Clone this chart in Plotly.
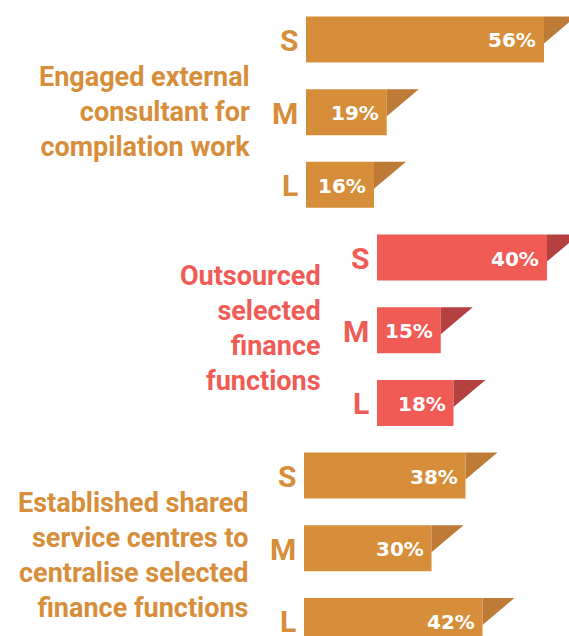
import plotly.graph_objects as go

# ---- data ----
group_labels = [
    "Engaged external<br>consultant for<br>compilation work",
    "Outsourced<br>selected<br>finance<br>functions",
    "Established shared<br>service centres to<br>centralise selected<br>finance functions",
]
sizes = ["S", "M", "L"]
engaged_values = [56, 19, 16]
outsourced_values = [40, 15, 18]
shared_values = [38, 30, 42]

# ---- styles / layout constants ----
W, H = 569, 636
PX_PER_PCT = 4.25                       # horizontal scale
ROW_PX = 72.69                          # vertical step between bars
ROW0_PX = 39.44                         # centre of first bar
BAR_H_PX = 46
FLAG_W_PX, FLAG_H_PX = 32, 27
group_left_px = [306, 377, 304]         # where each group's bars start
group_colors = ["#D68E3A", "#F05B56", "#D68E3A"]
flag_colors = ["#BE7A37", "#B44040", "#BE7A37"]
label_yshift = [0, 2, -7]

LABEL_FONT = "Roboto, 'Liberation Sans', Arial, sans-serif"
VALUE_FONT = "'DejaVu Sans', Verdana, sans-serif"

all_values = [engaged_values, outsourced_values, shared_values]

x_max = W / PX_PER_PCT
y_top = -ROW0_PX / ROW_PX
y_bottom = (H - ROW0_PX) / ROW_PX
bar_w = BAR_H_PX / ROW_PX
flag_w = FLAG_W_PX / PX_PER_PCT
flag_h = FLAG_H_PX / ROW_PX

fig = go.Figure()
annotations = []

for g, values in enumerate(all_values):
    base = group_left_px[g] / PX_PER_PCT
    ys = [g * 3 + k for k in range(len(values))]
    fig.add_trace(go.Bar(
        orientation="h",
        x=values,
        y=ys,
        base=[base] * len(values),
        width=bar_w,
        marker=dict(color=group_colors[g], line=dict(width=0)),
        hoverinfo="skip",
        showlegend=False,
    ))
    for k, (v, y) in enumerate(zip(values, ys)):
        end = base + v
        top = y - bar_w / 2
        fig.add_trace(go.Scatter(
            x=[end, end + flag_w, end, end],
            y=[top, top, top + flag_h, top],
            mode="lines",
            fill="toself",
            fillcolor=flag_colors[g],
            line=dict(width=0, color=flag_colors[g]),
            hoverinfo="skip",
            showlegend=False,
        ))
        annotations.append(dict(
            x=end, y=y, xref="x", yref="y",
            text=f"{v}%", showarrow=False,
            xanchor="right", yanchor="middle", xshift=-6, yshift=-1,
            font=dict(family=VALUE_FONT, size=20, color="white", weight="bold"),
        ))
        annotations.append(dict(
            x=base, y=y, xref="x", yref="y",
            text=sizes[k], showarrow=False,
            xanchor="right", yanchor="middle", xshift=-6, yshift=-1,
            font=dict(family=LABEL_FONT, size=30, color=group_colors[g], weight="bold"),
        ))
    annotations.append(dict(
        x=base, y=ys[1], xref="x", yref="y",
        text=group_labels[g], showarrow=False, align="right",
        xanchor="right", yanchor="middle", xshift=-54, yshift=label_yshift[g],
        font=dict(family=LABEL_FONT, size=27, color=group_colors[g], weight="bold"),
    ))

fig.update_layout(
    width=W, height=H,
    margin=dict(l=0, r=0, t=0, b=0),
    paper_bgcolor="white", plot_bgcolor="white",
    xaxis=dict(range=[0, x_max], visible=False, fixedrange=True),
    yaxis=dict(range=[y_bottom, y_top], visible=False, fixedrange=True),
    annotations=annotations,
    barmode="overlay",
)

fig.write_html(
    "out.html",
    config={"displayModeBar": False},
    post_script="document.body.style.margin='0';document.body.style.overflow='hidden';",
)
